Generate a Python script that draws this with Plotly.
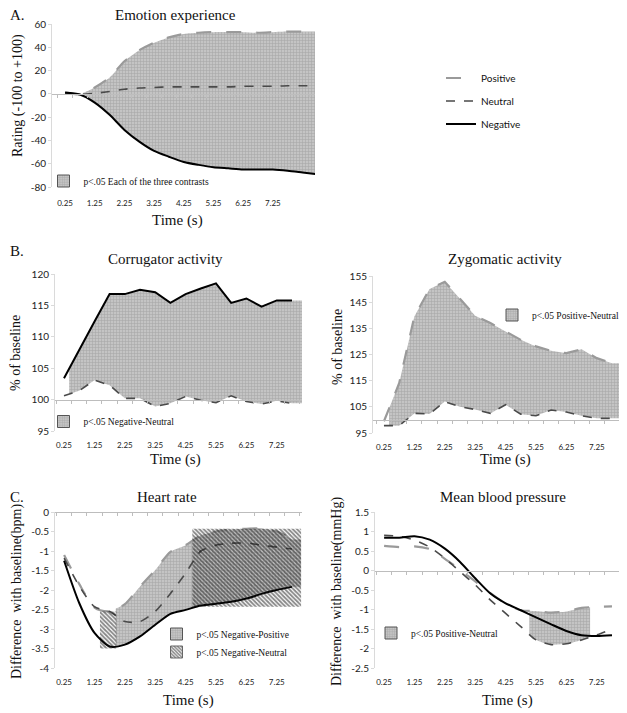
import numpy as np
import plotly.graph_objects as go

W, H = 627, 713          # browser window
OFF = 8                  # page body margin: the figure starts 8px in from the corner
FW, FH = W - OFF, H - OFF

# ---------------- data ----------------
tick_vals = [0.25, 1.25, 2.25, 3.25, 4.25, 5.25, 6.25, 7.25]
tick_text = ["0.25", "1.25", "2.25", "3.25", "4.25", "5.25", "6.25", "7.25"]
time_s = [0.25, 0.75, 1.25, 1.75, 2.25, 2.75, 3.25, 3.75,
          4.25, 4.75, 5.25, 5.75, 6.25, 6.75, 7.25, 7.75]

# A. Emotion experience (rating -100..+100)
emo_time = time_s + [8.25, 8.75]
emo_positive = [1.5, -0.5, 5.5, 14, 28, 37.5, 44, 48.5, 51.5, 52.5, 53, 53, 53, 52.5, 53, 53.5, 53.5, 53.5]
emo_neutral = [1, -0.5, 0.5, 2, 4, 5, 5.5, 6, 6, 6, 6, 6, 6.5, 6.5, 6.5, 7, 7, 7]
emo_negative = [1, -0.5, -7.5, -18, -31, -41, -49, -54, -58.5, -61, -63, -64, -65, -65, -65, -66, -67.5, -69]
emo_sig = (0.85, 8.75)

# B. Corrugator activity (% of baseline)
cor_negative = [103.4, 108.0, 112.4, 116.8, 116.8, 117.5, 117.1, 115.4,
                116.8, 117.7, 118.5, 115.4, 116.1, 114.8, 115.8, 115.8]
cor_neutral = [100.6, 101.4, 103.1, 102.3, 100.2, 100.2, 98.9, 99.4,
               100.5, 99.9, 99.5, 100.6, 99.7, 99.3, 99.8, 99.4]
cor_sig = (0.42, 8.08)

# B. Zygomatic activity (% of baseline)
zyg_positive = [99.5, 114, 139.5, 150, 152.8, 146.5, 139.8, 137,
                133.8, 130.6, 128.1, 126.4, 125.5, 127, 123.6, 121.7]
zyg_neutral = [97.8, 97.8, 102.5, 102.3, 107, 105, 104, 102.5,
               105.8, 102.2, 101.6, 103.8, 103, 101.6, 100.6, 100.6]
zyg_sig = (0.42, 7.98)

# C. Heart rate (difference with baseline, bpm)
hr_positive = [-1.1, -1.85, -2.45, -2.55, -2.36, -1.91, -1.49, -1.02,
               -0.85, -0.6, -0.5, -0.45, -0.43, -0.42, -0.5, -0.7]
hr_neutral = [-1.18, -1.9, -2.43, -2.55, -2.81, -2.81, -2.55, -2.09,
              -1.57, -1.0, -0.85, -0.8, -0.8, -0.85, -0.9, -0.95]
hr_negative = [-1.25, -2.34, -3.1, -3.45, -3.4, -3.19, -2.89, -2.61,
               -2.51, -2.4, -2.35, -2.3, -2.22, -2.1, -2.0, -1.92]
hr_negpos_sig = (1.95, 8.05)
hr_negneu_start = [1.43, 4.47]
hr_negneu_end = [1.97, 8.05]
hr_negneu_low = [-3.5, -2.43]
hr_negneu_high = [-2.55, -0.43]

# C. Mean blood pressure (difference with baseline, mmHg)
bp_positive = [0.63, 0.6, 0.62, 0.55, 0.3, 0.02, -0.28, -0.58,
               -0.85, -1.02, -1.04, -1.08, -1.05, -0.96, -0.93, -0.92]
bp_neutral = [0.9, 0.88, 0.78, 0.6, 0.31, -0.03, -0.37, -0.76,
              -1.1, -1.44, -1.78, -1.9, -1.88, -1.78, -1.65, -1.5]
bp_negative = [0.84, 0.84, 0.88, 0.79, 0.56, 0.22, -0.2, -0.59,
               -0.84, -1.02, -1.2, -1.38, -1.55, -1.66, -1.68, -1.66]
bp_sig = (5.03, 7.03)

# ---------------- styles ----------------
SERIF = "Liberation Serif, Times New Roman, serif"
SANS = "Lato, Liberation Sans, sans-serif"
POS = dict(color="#9a9a9a", width=2.2, dash="longdash")
NEU = dict(color="#4a4a4a", width=1.6, dash="dash")
NEG = dict(color="#000000", width=2)
GREY_PAT = dict(shape="+", bgcolor="#c4c4c4", fgcolor="#8c8c8c", size=3, solidity=0.35)
HATCH_PAT = dict(shape="\\", bgcolor="rgba(0,0,0,0)", fgcolor="#101010", size=3, solidity=0.62)

fig = go.Figure()


def axn(i):
    return "" if i == 1 else str(i)


def band(xs, lo, hi, win):
    t0, t1 = win
    xb = [t0] + [x for x in xs if t0 < x < t1] + [t1]
    return xb, np.interp(xb, xs, lo), np.interp(xb, xs, hi)


def add_band(i, xs, lo, hi, win, shape):
    xb, ylo, yhi = band(xs, lo, hi, win)
    ln = dict(width=0, shape=shape, smoothing=0.7)
    fig.add_trace(go.Scatter(x=xb, y=ylo, mode="lines", line=ln, showlegend=False,
                             hoverinfo="skip", xaxis="x" + axn(i), yaxis="y" + axn(i)))
    fig.add_trace(go.Scatter(x=xb, y=yhi, mode="lines", line=ln, fill="tonexty",
                             fillcolor="#b8b8b8", fillpattern=GREY_PAT, showlegend=False,
                             hoverinfo="skip", xaxis="x" + axn(i), yaxis="y" + axn(i)))


def add_line(i, xs, ys, style, name, shape, legend=None):
    fig.add_trace(go.Scatter(x=xs, y=ys, mode="lines", name=name,
                             line=dict(shape=shape, smoothing=0.7, **style),
                             showlegend=legend is not None, legend=legend or "legend",
                             xaxis="x" + axn(i), yaxis="y" + axn(i)))


def add_key(i, name, legend, hatch=False):
    # legend key entries; they sit on the panel's baseline axis (same range as the panel)
    if hatch:
        marker = dict(color="#101010", pattern=dict(shape="\\", fgcolor="#101010", bgcolor="white",
                                                    size=3, solidity=0.62),
                      line=dict(color="#666666", width=1))
    else:
        marker = dict(color="#b8b8b8", pattern=GREY_PAT, line=dict(color="#555555", width=1))
    fig.add_trace(go.Bar(x=[None], y=[None], name=name, marker=marker, legend=legend,
                         showlegend=True, xaxis="x" + str(i + 5), yaxis="y" + axn(i)))


# Panel A
add_band(1, emo_time, emo_negative, emo_positive, emo_sig, "spline")
add_line(1, emo_time, emo_positive, POS, "Positive", "spline", "legend")
add_line(1, emo_time, emo_neutral, NEU, "Neutral", "spline", "legend2")
add_line(1, emo_time, emo_negative, NEG, "Negative", "spline", "legend3")
add_key(1, "p&lt;.05 Each of the three contrasts", "legend4")

# Panel B left
add_band(2, time_s, cor_neutral, cor_negative, cor_sig, "linear")
add_line(2, time_s, cor_neutral, NEU, "Neutral", "linear")
add_line(2, time_s, cor_negative, NEG, "Negative", "linear")
add_key(2, "p&lt;.05 Negative-Neutral", "legend5")

# Panel B right
add_band(3, time_s, zyg_neutral, zyg_positive, zyg_sig, "linear")
add_line(3, time_s, zyg_positive, POS, "Positive", "linear")
add_line(3, time_s, zyg_neutral, NEU, "Neutral", "linear")
add_key(3, "p&lt;.05 Positive-Neutral", "legend6")

# Panel C left
add_band(4, time_s, hr_negative, hr_positive, hr_negpos_sig, "spline")
add_line(4, time_s, hr_positive, POS, "Positive", "spline")
add_line(4, time_s, hr_neutral, NEU, "Neutral", "spline")
add_line(4, time_s, hr_negative, NEG, "Negative", "spline")
hx, hy = [], []
for s, e, lo, hi in zip(hr_negneu_start, hr_negneu_end, hr_negneu_low, hr_negneu_high):
    hx += [s, e, e, s, s, None]
    hy += [lo, lo, hi, hi, lo, None]
fig.add_trace(go.Scatter(x=hx, y=hy, mode="lines", fill="toself", line=dict(width=0),
                         fillcolor="rgba(0,0,0,0)", fillpattern=HATCH_PAT, showlegend=False,
                         hoverinfo="skip", xaxis="x4", yaxis="y4"))
add_key(4, "p&lt;.05 Negative-Positive", "legend7")
add_key(4, "p&lt;.05 Negative-Neutral", "legend8", hatch=True)

# Panel C right
add_band(5, time_s, bp_neutral, bp_positive, bp_sig, "spline")
add_line(5, time_s, bp_positive, POS, "Positive", "spline")
add_line(5, time_s, bp_neutral, NEU, "Neutral", "spline")
add_line(5, time_s, bp_negative, NEG, "Negative", "spline")
add_key(5, "p&lt;.05 Positive-Neutral", "legend9")

# ---------------- layout (positions in window pixels) ----------------
panels = {
    1: dict(xd=(52, 315), yd=(24, 187), xr=(-0.19, 8.67), yr=(-80, 60), dy=20, base=0, tl=8),
    2: dict(xd=(55, 302), yd=(274, 431), xr=(-0.046, 8.08), yr=(95, 120), dy=5, base=100, tl=6),
    3: dict(xd=(373, 619), yd=(276, 433), xr=(-0.11, 7.98), yr=(95, 155), dy=10, base=100, tl=6),
    4: dict(xd=(55, 302), yd=(512, 668), xr=(-0.05, 8.08), yr=(-4, 0), dy=0.5, base=0, tl=6),
    5: dict(xd=(375, 622), yd=(512, 668), xr=(-0.05, 8.08), yr=(-2.5, 1.5), dy=0.5, base=0, tl=6),
}


def fx(x):
    return (x - OFF) / FW


def fy(y):
    return 1 - (y - OFF) / FH


lay = {}
for i, p in panels.items():
    xdom = [fx(p["xd"][0]), fx(p["xd"][1])]
    ydom = [fy(p["yd"][1]), fy(p["yd"][0])]
    yv = list(np.arange(p["yr"][0], p["yr"][1] + 1e-9, p["dy"]))
    lay["xaxis" + axn(i)] = dict(domain=xdom, range=list(p["xr"]), anchor="y" + axn(i),
                                 tickvals=tick_vals, ticktext=tick_text, showline=False,
                                 showgrid=False, zeroline=False, ticks="outside",
                                 ticklen=p["tl"], tickcolor="rgba(0,0,0,0)",
                                 tickfont=dict(family=SANS, size=8, color="#222"))
    lay["yaxis" + axn(i)] = dict(domain=ydom, range=list(p["yr"]), anchor="x" + axn(i),
                                 tickvals=yv, ticktext=[f"{v:g}" for v in yv],
                                 showline=True, linecolor="#dadada", ticks="outside",
                                 ticklen=3, tickcolor="#dadada", showgrid=False,
                                 zeroline=False, tickfont=dict(family=SANS, size=10, color="#222"))
    frac = (p["base"] - p["yr"][0]) / (p["yr"][1] - p["yr"][0])
    pos = ydom[0] + frac * (ydom[1] - ydom[0])
    lay["xaxis" + str(i + 5)] = dict(overlaying="x" + axn(i), anchor="free", position=pos,
                                     range=list(p["xr"]), showline=True, linecolor="#bdbdbd",
                                     ticks="outside", ticklen=3, tickcolor="#bdbdbd",
                                     tick0=0, dtick=0.5, showticklabels=False,
                                     showgrid=False, zeroline=False)


def legend_at(x, y, size, family):
    return dict(x=fx(x), y=fy(y), xanchor="left", yanchor="middle", bgcolor="rgba(0,0,0,0)",
                borderwidth=0, itemwidth=30, font=dict(family=family, size=size, color="#111"),
                itemclick=False, itemdoubleclick=False)


lay["legend"] = legend_at(441, 78, 10, SANS)
lay["legend2"] = legend_at(441, 101, 10, SANS)
lay["legend3"] = legend_at(441, 124, 10, SANS)
lay["legend4"] = legend_at(43.5, 181, 9.5, SERIF)
lay["legend5"] = legend_at(43.5, 421.5, 9.5, SERIF)
lay["legend6"] = legend_at(492, 315, 9.5, SERIF)
lay["legend7"] = legend_at(156.5, 634, 9.5, SERIF)
lay["legend8"] = legend_at(156.5, 652, 9.5, SERIF)
lay["legend9"] = legend_at(371, 633, 9.5, SERIF)

ann = []


def text(t, x, y, size=15, angle=0, xanchor="center"):
    ann.append(dict(text=t, x=fx(x), y=fy(y), xref="paper", yref="paper", showarrow=False,
                    xanchor=xanchor, yanchor="middle", textangle=angle,
                    font=dict(family=SERIF, size=size, color="#111")))


text("A.", 8, 15, xanchor="left")
text("B.", 8, 251, xanchor="left")
text("C.", 8, 497, xanchor="left")
text("Emotion experience", 175, 15)
text("Corrugator activity", 165, 259)
text("Zygomatic activity", 505, 259)
text("Heart rate", 167, 497)
text("Mean blood pressure", 503, 497)
for (x, y) in [(177, 220), (175, 459), (505, 459), (188, 700), (508, 700)]:
    text("Time (s)", x, y)
text("Rating (-100 to +100)", 18, 96, size=14, angle=-90)
text("% of baseline", 16, 353, size=14, angle=-90)
text("% of baseline", 338, 347, size=14, angle=-90)
text("Difference\u00a0 with baseline(bpm)", 17, 592, size=14, angle=-90)
text("Difference\u00a0 with baseline(mmHg)", 337, 592, size=14, angle=-90)

fig.update_layout(width=FW, height=FH,
                  margin=dict(l=0, r=0, t=0, b=0, pad=0, autoexpand=False),
                  paper_bgcolor="white", plot_bgcolor="white", barmode="overlay",
                  annotations=ann, showlegend=True, **lay)

fig.write_html("out.html")
